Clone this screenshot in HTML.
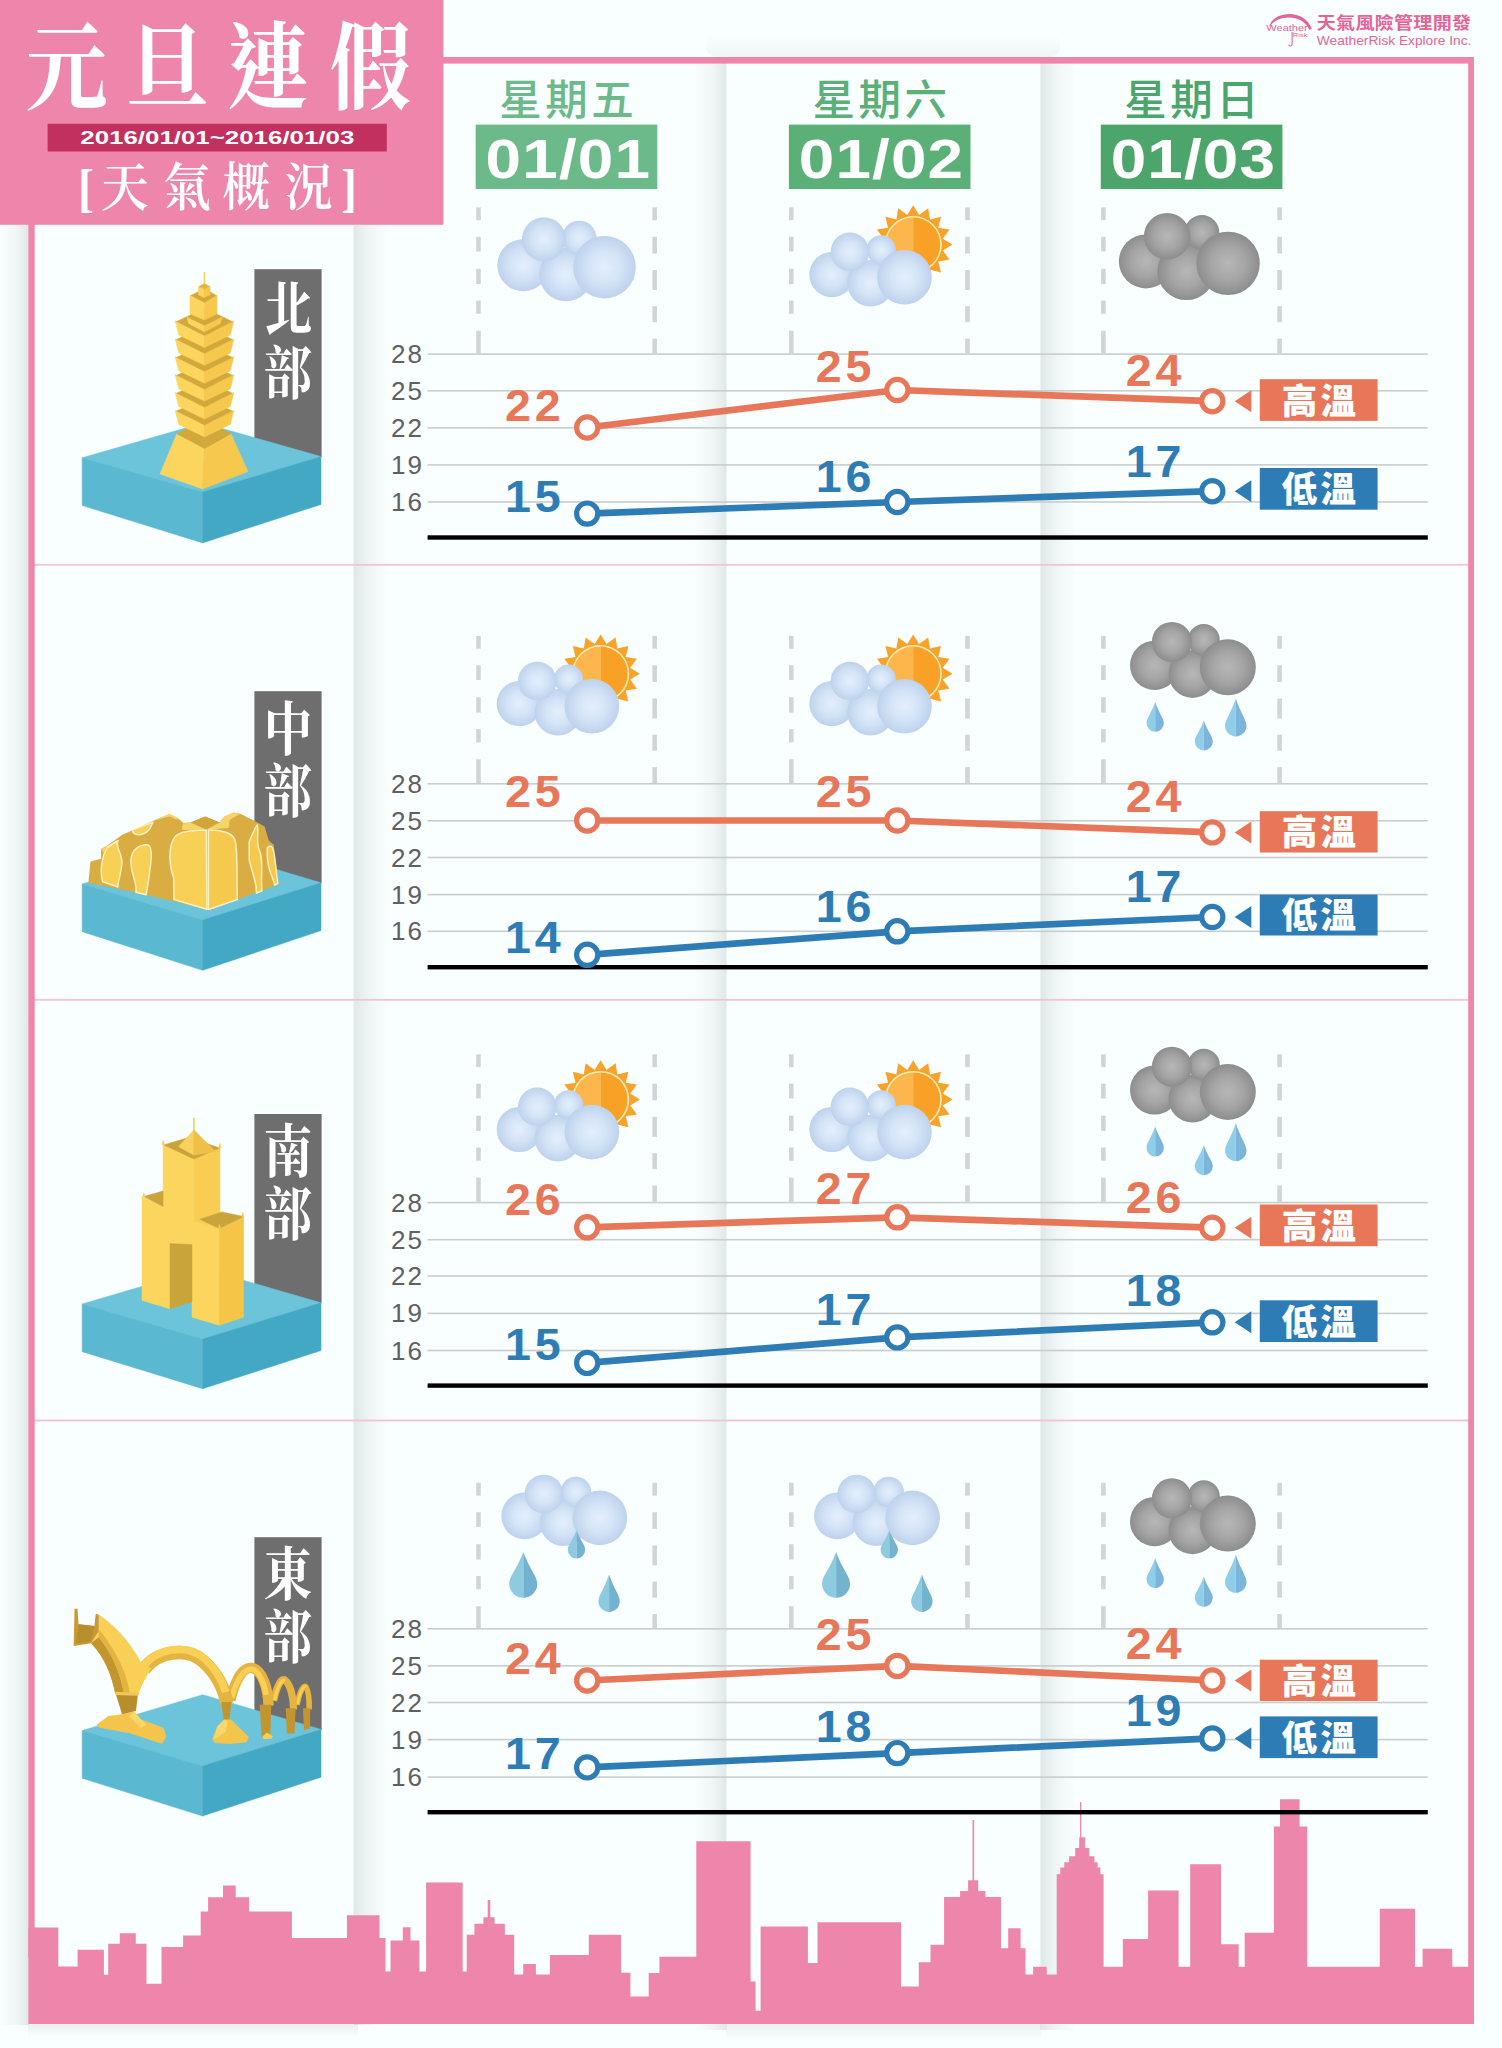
<!DOCTYPE html>
<html lang="zh-Hant"><head><meta charset="utf-8"><title>元旦連假 天氣概況</title>
<style>
html,body{margin:0;padding:0;background:#f9fefe;}
body{width:1502px;height:2048px;overflow:hidden;}
svg{display:block;}
.sans{font-family:"Liberation Sans", "Noto Sans CJK TC", sans-serif;}
.serif{font-family:"Liberation Serif", "Noto Serif CJK SC", serif;}
</style></head><body>
<svg width="1502" height="2048" viewBox="0 0 1502 2048">
<defs>
<linearGradient id="shL" x1="0" x2="1" y1="0" y2="0"><stop offset="0" stop-color="#5d7b74" stop-opacity="0"/><stop offset="0.5" stop-color="#5d7b74" stop-opacity="0.05"/><stop offset="0.85" stop-color="#5d7b74" stop-opacity="0.12"/><stop offset="1" stop-color="#5d7b74" stop-opacity="0.17"/></linearGradient>
<linearGradient id="shR" x1="0" x2="1" y1="0" y2="0"><stop offset="0" stop-color="#5d7b74" stop-opacity="0.17"/><stop offset="0.2" stop-color="#5d7b74" stop-opacity="0.115"/><stop offset="0.55" stop-color="#5d7b74" stop-opacity="0.05"/><stop offset="1" stop-color="#5d7b74" stop-opacity="0"/></linearGradient>
<linearGradient id="shD" x1="0" x2="0" y1="0" y2="1"><stop offset="0" stop-color="#5d7b74" stop-opacity="0.10"/><stop offset="1" stop-color="#5d7b74" stop-opacity="0"/></linearGradient>
<linearGradient id="shU" x1="0" x2="0" y1="0" y2="1"><stop offset="0" stop-color="#5a6e6e" stop-opacity="0"/><stop offset="1" stop-color="#5a6e6e" stop-opacity="0.10"/></linearGradient>
<radialGradient id="gL" cx="0.5" cy="0.5" r="0.5"><stop offset="0" stop-color="#e4effc"/><stop offset="0.55" stop-color="#d3e3f6"/><stop offset="1" stop-color="#bdd2ed"/></radialGradient>
<radialGradient id="gG" cx="0.5" cy="0.5" r="0.5"><stop offset="0" stop-color="#b7b7b7"/><stop offset="0.55" stop-color="#a5a5a5"/><stop offset="1" stop-color="#8d8d8d"/></radialGradient>
</defs>
<rect width="1502" height="2048" fill="#f9fefe"/>

<rect x="0" y="225" width="28.3" height="1800" fill="url(#shL)"/>
<rect x="28" y="2024" width="330" height="14" fill="url(#shD)"/>
<rect x="726" y="2024" width="315" height="16" fill="url(#shD)"/>
<rect x="353.5" y="225" width="36" height="1800" fill="url(#shR)"/>
<rect x="693.5" y="60" width="33" height="1970" fill="url(#shL)"/>
<rect x="1040.5" y="60" width="35" height="1970" fill="url(#shR)"/>
<rect x="706" y="34" width="354" height="23" rx="10" fill="url(#shU)" opacity="0.55"/>
<rect x="34" y="563.9" width="1436" height="1.8" fill="#f0c4d6"/>
<rect x="34" y="998.9" width="1436" height="1.8" fill="#f0c4d6"/>
<rect x="34" y="1419.6" width="1436" height="1.8" fill="#f0c4d6"/>
<rect x="476.2" y="207.4" width="4.6" height="12.8" fill="#d2d5d5"/>
<rect x="476.2" y="236.8" width="4.6" height="14.7" fill="#d2d5d5"/>
<rect x="476.2" y="268.8" width="4.6" height="15.3" fill="#d2d5d5"/>
<rect x="476.2" y="300.6" width="4.6" height="13.2" fill="#d2d5d5"/>
<rect x="476.2" y="330.8" width="4.6" height="22.5" fill="#d2d5d5"/>
<rect x="652.4" y="207.4" width="4.6" height="12.8" fill="#d2d5d5"/>
<rect x="652.4" y="236.8" width="4.6" height="16.7" fill="#d2d5d5"/>
<rect x="652.4" y="270.0" width="4.6" height="20.0" fill="#d2d5d5"/>
<rect x="652.4" y="306.2" width="4.6" height="16.0" fill="#d2d5d5"/>
<rect x="652.4" y="338.6" width="4.6" height="14.7" fill="#d2d5d5"/>
<rect x="789.0" y="207.4" width="4.6" height="12.8" fill="#d2d5d5"/>
<rect x="789.0" y="236.8" width="4.6" height="14.7" fill="#d2d5d5"/>
<rect x="789.0" y="268.8" width="4.6" height="15.3" fill="#d2d5d5"/>
<rect x="789.0" y="300.6" width="4.6" height="13.2" fill="#d2d5d5"/>
<rect x="789.0" y="330.8" width="4.6" height="22.5" fill="#d2d5d5"/>
<rect x="965.2" y="207.4" width="4.6" height="12.8" fill="#d2d5d5"/>
<rect x="965.2" y="236.8" width="4.6" height="16.7" fill="#d2d5d5"/>
<rect x="965.2" y="270.0" width="4.6" height="20.0" fill="#d2d5d5"/>
<rect x="965.2" y="306.2" width="4.6" height="16.0" fill="#d2d5d5"/>
<rect x="965.2" y="338.6" width="4.6" height="14.7" fill="#d2d5d5"/>
<rect x="1101.1" y="207.4" width="4.6" height="12.8" fill="#d2d5d5"/>
<rect x="1101.1" y="236.8" width="4.6" height="14.7" fill="#d2d5d5"/>
<rect x="1101.1" y="268.8" width="4.6" height="15.3" fill="#d2d5d5"/>
<rect x="1101.1" y="300.6" width="4.6" height="13.2" fill="#d2d5d5"/>
<rect x="1101.1" y="330.8" width="4.6" height="22.5" fill="#d2d5d5"/>
<rect x="1277.3" y="207.4" width="4.6" height="12.8" fill="#d2d5d5"/>
<rect x="1277.3" y="236.8" width="4.6" height="16.7" fill="#d2d5d5"/>
<rect x="1277.3" y="270.0" width="4.6" height="20.0" fill="#d2d5d5"/>
<rect x="1277.3" y="306.2" width="4.6" height="16.0" fill="#d2d5d5"/>
<rect x="1277.3" y="338.6" width="4.6" height="14.7" fill="#d2d5d5"/>
<rect x="427.6" y="353.3" width="1000.2" height="1.6" fill="#c9cdcd"/>
<text class="sans" lang="en" x="423.8" y="363.1" font-size="26" fill="#606060" text-anchor="end" letter-spacing="1.9">28</text>
<rect x="427.6" y="390.0" width="1000.2" height="1.6" fill="#c9cdcd"/>
<text class="sans" lang="en" x="423.8" y="399.8" font-size="26" fill="#606060" text-anchor="end" letter-spacing="1.9">25</text>
<rect x="427.6" y="427.1" width="1000.2" height="1.6" fill="#c9cdcd"/>
<text class="sans" lang="en" x="423.8" y="436.9" font-size="26" fill="#606060" text-anchor="end" letter-spacing="1.9">22</text>
<rect x="427.6" y="464.1" width="1000.2" height="1.6" fill="#c9cdcd"/>
<text class="sans" lang="en" x="423.8" y="473.9" font-size="26" fill="#606060" text-anchor="end" letter-spacing="1.9">19</text>
<rect x="427.6" y="501.2" width="1000.2" height="1.6" fill="#c9cdcd"/>
<text class="sans" lang="en" x="423.8" y="511.0" font-size="26" fill="#606060" text-anchor="end" letter-spacing="1.9">16</text>
<rect x="476.2" y="635.9" width="4.6" height="12.8" fill="#d2d5d5"/>
<rect x="476.2" y="665.3" width="4.6" height="14.7" fill="#d2d5d5"/>
<rect x="476.2" y="697.3" width="4.6" height="15.3" fill="#d2d5d5"/>
<rect x="476.2" y="729.1" width="4.6" height="13.2" fill="#d2d5d5"/>
<rect x="476.2" y="759.3" width="4.6" height="23.7" fill="#d2d5d5"/>
<rect x="652.4" y="635.9" width="4.6" height="12.8" fill="#d2d5d5"/>
<rect x="652.4" y="665.3" width="4.6" height="16.7" fill="#d2d5d5"/>
<rect x="652.4" y="698.5" width="4.6" height="20.0" fill="#d2d5d5"/>
<rect x="652.4" y="734.7" width="4.6" height="16.0" fill="#d2d5d5"/>
<rect x="652.4" y="767.1" width="4.6" height="15.9" fill="#d2d5d5"/>
<rect x="789.0" y="635.9" width="4.6" height="12.8" fill="#d2d5d5"/>
<rect x="789.0" y="665.3" width="4.6" height="14.7" fill="#d2d5d5"/>
<rect x="789.0" y="697.3" width="4.6" height="15.3" fill="#d2d5d5"/>
<rect x="789.0" y="729.1" width="4.6" height="13.2" fill="#d2d5d5"/>
<rect x="789.0" y="759.3" width="4.6" height="23.7" fill="#d2d5d5"/>
<rect x="965.2" y="635.9" width="4.6" height="12.8" fill="#d2d5d5"/>
<rect x="965.2" y="665.3" width="4.6" height="16.7" fill="#d2d5d5"/>
<rect x="965.2" y="698.5" width="4.6" height="20.0" fill="#d2d5d5"/>
<rect x="965.2" y="734.7" width="4.6" height="16.0" fill="#d2d5d5"/>
<rect x="965.2" y="767.1" width="4.6" height="15.9" fill="#d2d5d5"/>
<rect x="1101.1" y="635.9" width="4.6" height="12.8" fill="#d2d5d5"/>
<rect x="1101.1" y="665.3" width="4.6" height="14.7" fill="#d2d5d5"/>
<rect x="1101.1" y="697.3" width="4.6" height="15.3" fill="#d2d5d5"/>
<rect x="1101.1" y="729.1" width="4.6" height="13.2" fill="#d2d5d5"/>
<rect x="1101.1" y="759.3" width="4.6" height="23.7" fill="#d2d5d5"/>
<rect x="1277.3" y="635.9" width="4.6" height="12.8" fill="#d2d5d5"/>
<rect x="1277.3" y="665.3" width="4.6" height="16.7" fill="#d2d5d5"/>
<rect x="1277.3" y="698.5" width="4.6" height="20.0" fill="#d2d5d5"/>
<rect x="1277.3" y="734.7" width="4.6" height="16.0" fill="#d2d5d5"/>
<rect x="1277.3" y="767.1" width="4.6" height="15.9" fill="#d2d5d5"/>
<rect x="427.6" y="783.0" width="1000.2" height="1.6" fill="#c9cdcd"/>
<text class="sans" lang="en" x="423.8" y="792.8" font-size="26" fill="#606060" text-anchor="end" letter-spacing="1.9">28</text>
<rect x="427.6" y="820.0" width="1000.2" height="1.6" fill="#c9cdcd"/>
<text class="sans" lang="en" x="423.8" y="829.8" font-size="26" fill="#606060" text-anchor="end" letter-spacing="1.9">25</text>
<rect x="427.6" y="856.7" width="1000.2" height="1.6" fill="#c9cdcd"/>
<text class="sans" lang="en" x="423.8" y="866.5" font-size="26" fill="#606060" text-anchor="end" letter-spacing="1.9">22</text>
<rect x="427.6" y="893.8" width="1000.2" height="1.6" fill="#c9cdcd"/>
<text class="sans" lang="en" x="423.8" y="903.6" font-size="26" fill="#606060" text-anchor="end" letter-spacing="1.9">19</text>
<rect x="427.6" y="930.5" width="1000.2" height="1.6" fill="#c9cdcd"/>
<text class="sans" lang="en" x="423.8" y="940.3" font-size="26" fill="#606060" text-anchor="end" letter-spacing="1.9">16</text>
<rect x="476.2" y="1054.3" width="4.6" height="12.8" fill="#d2d5d5"/>
<rect x="476.2" y="1083.7" width="4.6" height="14.7" fill="#d2d5d5"/>
<rect x="476.2" y="1115.7" width="4.6" height="15.3" fill="#d2d5d5"/>
<rect x="476.2" y="1147.5" width="4.6" height="13.2" fill="#d2d5d5"/>
<rect x="476.2" y="1177.7" width="4.6" height="24.1" fill="#d2d5d5"/>
<rect x="652.4" y="1054.3" width="4.6" height="12.8" fill="#d2d5d5"/>
<rect x="652.4" y="1083.7" width="4.6" height="16.7" fill="#d2d5d5"/>
<rect x="652.4" y="1116.9" width="4.6" height="20.0" fill="#d2d5d5"/>
<rect x="652.4" y="1153.1" width="4.6" height="16.0" fill="#d2d5d5"/>
<rect x="652.4" y="1185.5" width="4.6" height="16.3" fill="#d2d5d5"/>
<rect x="789.0" y="1054.3" width="4.6" height="12.8" fill="#d2d5d5"/>
<rect x="789.0" y="1083.7" width="4.6" height="14.7" fill="#d2d5d5"/>
<rect x="789.0" y="1115.7" width="4.6" height="15.3" fill="#d2d5d5"/>
<rect x="789.0" y="1147.5" width="4.6" height="13.2" fill="#d2d5d5"/>
<rect x="789.0" y="1177.7" width="4.6" height="24.1" fill="#d2d5d5"/>
<rect x="965.2" y="1054.3" width="4.6" height="12.8" fill="#d2d5d5"/>
<rect x="965.2" y="1083.7" width="4.6" height="16.7" fill="#d2d5d5"/>
<rect x="965.2" y="1116.9" width="4.6" height="20.0" fill="#d2d5d5"/>
<rect x="965.2" y="1153.1" width="4.6" height="16.0" fill="#d2d5d5"/>
<rect x="965.2" y="1185.5" width="4.6" height="16.3" fill="#d2d5d5"/>
<rect x="1101.1" y="1054.3" width="4.6" height="12.8" fill="#d2d5d5"/>
<rect x="1101.1" y="1083.7" width="4.6" height="14.7" fill="#d2d5d5"/>
<rect x="1101.1" y="1115.7" width="4.6" height="15.3" fill="#d2d5d5"/>
<rect x="1101.1" y="1147.5" width="4.6" height="13.2" fill="#d2d5d5"/>
<rect x="1101.1" y="1177.7" width="4.6" height="24.1" fill="#d2d5d5"/>
<rect x="1277.3" y="1054.3" width="4.6" height="12.8" fill="#d2d5d5"/>
<rect x="1277.3" y="1083.7" width="4.6" height="16.7" fill="#d2d5d5"/>
<rect x="1277.3" y="1116.9" width="4.6" height="20.0" fill="#d2d5d5"/>
<rect x="1277.3" y="1153.1" width="4.6" height="16.0" fill="#d2d5d5"/>
<rect x="1277.3" y="1185.5" width="4.6" height="16.3" fill="#d2d5d5"/>
<rect x="427.6" y="1201.8" width="1000.2" height="1.6" fill="#c9cdcd"/>
<text class="sans" lang="en" x="423.8" y="1211.6" font-size="26" fill="#606060" text-anchor="end" letter-spacing="1.9">28</text>
<rect x="427.6" y="1238.9" width="1000.2" height="1.6" fill="#c9cdcd"/>
<text class="sans" lang="en" x="423.8" y="1248.7" font-size="26" fill="#606060" text-anchor="end" letter-spacing="1.9">25</text>
<rect x="427.6" y="1275.2" width="1000.2" height="1.6" fill="#c9cdcd"/>
<text class="sans" lang="en" x="423.8" y="1285.0" font-size="26" fill="#606060" text-anchor="end" letter-spacing="1.9">22</text>
<rect x="427.6" y="1312.6" width="1000.2" height="1.6" fill="#c9cdcd"/>
<text class="sans" lang="en" x="423.8" y="1322.4" font-size="26" fill="#606060" text-anchor="end" letter-spacing="1.9">19</text>
<rect x="427.6" y="1349.7" width="1000.2" height="1.6" fill="#c9cdcd"/>
<text class="sans" lang="en" x="423.8" y="1359.5" font-size="26" fill="#606060" text-anchor="end" letter-spacing="1.9">16</text>
<rect x="476.2" y="1482.8" width="4.6" height="12.8" fill="#d2d5d5"/>
<rect x="476.2" y="1512.2" width="4.6" height="14.7" fill="#d2d5d5"/>
<rect x="476.2" y="1544.2" width="4.6" height="15.3" fill="#d2d5d5"/>
<rect x="476.2" y="1576.0" width="4.6" height="13.2" fill="#d2d5d5"/>
<rect x="476.2" y="1606.2" width="4.6" height="21.8" fill="#d2d5d5"/>
<rect x="652.4" y="1482.8" width="4.6" height="12.8" fill="#d2d5d5"/>
<rect x="652.4" y="1512.2" width="4.6" height="16.7" fill="#d2d5d5"/>
<rect x="652.4" y="1545.4" width="4.6" height="20.0" fill="#d2d5d5"/>
<rect x="652.4" y="1581.6" width="4.6" height="16.0" fill="#d2d5d5"/>
<rect x="652.4" y="1614.0" width="4.6" height="14.0" fill="#d2d5d5"/>
<rect x="789.0" y="1482.8" width="4.6" height="12.8" fill="#d2d5d5"/>
<rect x="789.0" y="1512.2" width="4.6" height="14.7" fill="#d2d5d5"/>
<rect x="789.0" y="1544.2" width="4.6" height="15.3" fill="#d2d5d5"/>
<rect x="789.0" y="1576.0" width="4.6" height="13.2" fill="#d2d5d5"/>
<rect x="789.0" y="1606.2" width="4.6" height="21.8" fill="#d2d5d5"/>
<rect x="965.2" y="1482.8" width="4.6" height="12.8" fill="#d2d5d5"/>
<rect x="965.2" y="1512.2" width="4.6" height="16.7" fill="#d2d5d5"/>
<rect x="965.2" y="1545.4" width="4.6" height="20.0" fill="#d2d5d5"/>
<rect x="965.2" y="1581.6" width="4.6" height="16.0" fill="#d2d5d5"/>
<rect x="965.2" y="1614.0" width="4.6" height="14.0" fill="#d2d5d5"/>
<rect x="1101.1" y="1482.8" width="4.6" height="12.8" fill="#d2d5d5"/>
<rect x="1101.1" y="1512.2" width="4.6" height="14.7" fill="#d2d5d5"/>
<rect x="1101.1" y="1544.2" width="4.6" height="15.3" fill="#d2d5d5"/>
<rect x="1101.1" y="1576.0" width="4.6" height="13.2" fill="#d2d5d5"/>
<rect x="1101.1" y="1606.2" width="4.6" height="21.8" fill="#d2d5d5"/>
<rect x="1277.3" y="1482.8" width="4.6" height="12.8" fill="#d2d5d5"/>
<rect x="1277.3" y="1512.2" width="4.6" height="16.7" fill="#d2d5d5"/>
<rect x="1277.3" y="1545.4" width="4.6" height="20.0" fill="#d2d5d5"/>
<rect x="1277.3" y="1581.6" width="4.6" height="16.0" fill="#d2d5d5"/>
<rect x="1277.3" y="1614.0" width="4.6" height="14.0" fill="#d2d5d5"/>
<rect x="427.6" y="1628.0" width="1000.2" height="1.6" fill="#c9cdcd"/>
<text class="sans" lang="en" x="423.8" y="1637.8" font-size="26" fill="#606060" text-anchor="end" letter-spacing="1.9">28</text>
<rect x="427.6" y="1665.1" width="1000.2" height="1.6" fill="#c9cdcd"/>
<text class="sans" lang="en" x="423.8" y="1674.9" font-size="26" fill="#606060" text-anchor="end" letter-spacing="1.9">25</text>
<rect x="427.6" y="1701.7" width="1000.2" height="1.6" fill="#c9cdcd"/>
<text class="sans" lang="en" x="423.8" y="1711.5" font-size="26" fill="#606060" text-anchor="end" letter-spacing="1.9">22</text>
<rect x="427.6" y="1738.8" width="1000.2" height="1.6" fill="#c9cdcd"/>
<text class="sans" lang="en" x="423.8" y="1748.6" font-size="26" fill="#606060" text-anchor="end" letter-spacing="1.9">19</text>
<rect x="427.6" y="1776.3" width="1000.2" height="1.6" fill="#c9cdcd"/>
<text class="sans" lang="en" x="423.8" y="1786.1" font-size="26" fill="#606060" text-anchor="end" letter-spacing="1.9">16</text>
<polygon fill="#ee86ab" points="28.3,1927.5 58.3,1927.5 58.3,1966.4 77.6,1966.4 77.6,1949.8 103.9,1949.8 103.9,1974.8 108.2,1974.8 108.2,1943.8 119.8,1943.8 119.8,1933.2 135.8,1933.2 135.8,1943.8 146.5,1943.8 146.5,1983.8 161.5,1983.8 161.5,1947.1 183.1,1947.1 183.1,1935.5 200.7,1935.5 200.7,1911.5 208.1,1911.5 208.1,1897.2 223.0,1897.2 223.0,1885.6 235.7,1885.6 235.7,1897.2 249.0,1897.2 249.0,1911.5 291.9,1911.5 291.9,1938.1 346.9,1938.1 346.9,1915.2 379.5,1915.2 379.5,1938.1 385.5,1938.1 385.5,1971.4 390.5,1971.4 390.5,1940.5 402.8,1940.5 402.8,1927.2 410.5,1927.2 410.5,1940.5 419.4,1940.5 419.4,1971.4 426.1,1971.4 426.1,1882.6 462.7,1882.6 462.7,1971.4 466.7,1971.4 466.7,1934.8 474.4,1934.8 474.4,1923.8 483.4,1923.8 483.4,1917.2 487.7,1917.2 487.7,1899.9 490.3,1899.9 490.3,1917.2 494.6,1917.2 494.6,1923.8 504.9,1923.8 504.9,1934.8 514.2,1934.8 514.2,1974.4 523.2,1974.4 523.2,1964.1 535.9,1964.1 535.9,1974.4 549.9,1974.4 549.9,1955.1 588.8,1955.1 588.8,1934.8 621.1,1934.8 621.1,1972.8 630.4,1972.8 630.4,1996.4 648.7,1996.4 648.7,1973.1 659.4,1973.1 659.4,1956.8 696.3,1956.8 696.3,1841.3 750.6,1841.3 750.6,1981.4 755.6,1981.4 755.6,2010.7 760.6,2010.7 760.6,1926.5 807.9,1926.5 807.9,1963.1 817.5,1963.1 817.5,1922.2 901.1,1922.2 901.1,1986.4 918.8,1986.4 918.8,1962.3 930.5,1962.3 930.5,1944.7 944.1,1944.7 944.1,1897.0 960.1,1897.0 960.1,1891.0 968.1,1891.0 968.1,1880.2 972.5,1880.2 972.5,1820.1 974.1,1820.1 974.1,1880.2 978.2,1880.2 978.2,1891.0 985.4,1891.0 985.4,1897.0 1001.0,1897.0 1001.0,1948.3 1008.2,1948.3 1008.2,1928.3 1020.6,1928.3 1020.6,1948.3 1025.5,1948.3 1025.5,1974.4 1033.1,1974.4 1033.1,1966.8 1046.7,1966.8 1046.7,1974.4 1056.7,1974.4 1056.7,1874.2 1060.3,1874.2 1060.3,1867.4 1064.3,1867.4 1064.3,1862.2 1069.1,1862.2 1069.1,1856.2 1075.2,1856.2 1075.2,1848.1 1079.2,1848.1 1079.2,1837.3 1080.0,1837.3 1080.0,1802.0 1081.2,1802.0 1081.2,1837.3 1085.2,1837.3 1085.2,1848.1 1089.2,1848.1 1089.2,1856.2 1094.4,1856.2 1094.4,1862.2 1097.6,1862.2 1097.6,1867.4 1100.4,1867.4 1100.4,1874.2 1103.6,1874.2 1103.6,1966.8 1122.8,1966.8 1122.8,1939.1 1148.1,1939.1 1148.1,1890.6 1178.6,1890.6 1178.6,1966.8 1190.2,1966.8 1190.2,1864.2 1221.0,1864.2 1221.0,1944.3 1238.7,1944.3 1238.7,1966.8 1244.7,1966.8 1244.7,1932.7 1273.9,1932.7 1273.9,1826.5 1280.0,1826.5 1280.0,1799.2 1299.6,1799.2 1299.6,1826.5 1307.2,1826.5 1307.2,1966.8 1379.8,1966.8 1379.8,1908.7 1415.0,1908.7 1415.0,1966.8 1422.6,1966.8 1422.6,1948.7 1452.3,1948.7 1452.3,1966.8 1474.0,1966.8 1474.0,2024.0 28.3,2024.0"/>
<rect x="28.3" y="57" width="1445.7" height="6.6" fill="#ee86ab"/>
<rect x="28.3" y="57" width="6.4" height="1900" fill="#ee86ab"/>
<rect x="1468.2" y="57" width="5.8" height="1930" fill="#ee86ab"/>
<rect x="427.6" y="535.3" width="1000.2" height="4.4" fill="#000"/>
<rect x="427.6" y="965.0" width="1000.2" height="4.4" fill="#000"/>
<rect x="427.6" y="1383.4" width="1000.2" height="4.4" fill="#000"/>
<rect x="427.6" y="1810.0" width="1000.2" height="4.4" fill="#000"/>
<rect x="0" y="0" width="443.4" height="224.8" fill="#ee86ab"/>
<g transform="scale(0.86,1)"><text class="serif" font-size="95" font-weight="700" fill="#fff" text-anchor="middle" x="77.4 194.5 311.6 430.6" y="102.2">元旦連假</text></g>
<rect x="47.6" y="123.8" width="339.2" height="27.7" fill="#c2305f"/>
<text class="sans" lang="en" font-size="18.5" font-weight="700" fill="#fff" x="80.3" y="143.9" textLength="274" lengthAdjust="spacingAndGlyphs">2016/01/01~2016/01/03</text>
<g transform="scale(0.92,1)"><text class="serif" font-size="52" font-weight="600" fill="#fff" text-anchor="middle" x="93.4 135.7 203.4 267.7 335.4 379.2" y="205.6">[天氣概況]</text></g>
<g fill="#e2659a">
<path d="M1269.2,26.0 C1274.5,10.6 1304.4,8.6 1311.8,29.0 L1309.2,29.8 C1302.9,13.6 1277.5,14.6 1270.1,26.4 Z"/>
<text class="sans" lang="en" font-size="9.6" x="1266.3" y="30.6" textLength="41.5" lengthAdjust="spacingAndGlyphs">Weather</text>
<text class="sans" lang="en" font-size="6.2" x="1292.8" y="37.4" textLength="14.6" lengthAdjust="spacingAndGlyphs">Risk</text>
<path d="M1291.6,32 L1292.7,32 L1292.7,43.5 C1292.7,47.2 1288.6,47.4 1288.2,44.6 L1289.2,44.4 C1289.6,46.2 1291.6,46 1291.6,43.5 Z"/>
<text class="sans" font-size="16.6" font-weight="700" transform="translate(1316.8,28.7) scale(1.15,1)" letter-spacing="0.2">天氣風險管理開發</text>
<text class="sans" lang="en" font-size="13.6" x="1316.8" y="44.8" textLength="154.6" lengthAdjust="spacingAndGlyphs">WeatherRisk Explore Inc.</text>
</g>
<text class="sans" font-size="42.5" font-weight="500" fill="#6cba8a" text-anchor="middle" x="520.5 566.5 612.5" y="114.5">星期五</text>
<rect x="475.7" y="124.6" width="181.6" height="64.4" fill="#6cba8a"/>
<text class="sans" lang="en" font-size="55.5" font-weight="700" fill="#fff" transform="translate(485.6,177.5) scale(1.15,1)" letter-spacing="1.0">01/01</text>
<text class="sans" font-size="42.5" font-weight="500" fill="#5bb077" text-anchor="middle" x="833.7 879.7 925.7" y="114.5">星期六</text>
<rect x="788.9" y="124.6" width="181.6" height="64.4" fill="#5bb077"/>
<text class="sans" lang="en" font-size="55.5" font-weight="700" fill="#fff" transform="translate(798.8,177.5) scale(1.15,1)" letter-spacing="1.0">01/02</text>
<text class="sans" font-size="42.5" font-weight="500" fill="#4ca56a" text-anchor="middle" x="1145.6 1191.6 1237.6" y="114.5">星期日</text>
<rect x="1100.8" y="124.6" width="181.6" height="64.4" fill="#4ca56a"/>
<text class="sans" lang="en" font-size="55.5" font-weight="700" fill="#fff" transform="translate(1110.7,177.5) scale(1.15,1)" letter-spacing="1.0">01/03</text>
<polyline points="587.2,427.5 897.3,390.0 1212.3,401.2" fill="none" stroke="#e8775a" stroke-width="6.7" stroke-linejoin="round"/>
<circle cx="587.2" cy="427.5" r="10.6" fill="#fff" stroke="#e8775a" stroke-width="5.2"/>
<circle cx="897.3" cy="390.0" r="10.6" fill="#fff" stroke="#e8775a" stroke-width="5.2"/>
<circle cx="1212.3" cy="401.2" r="10.6" fill="#fff" stroke="#e8775a" stroke-width="5.2"/>
<polyline points="587.2,513.6 897.3,502.0 1212.3,491.2" fill="none" stroke="#2e7cb5" stroke-width="6.7" stroke-linejoin="round"/>
<circle cx="587.2" cy="513.6" r="10.6" fill="#fff" stroke="#2e7cb5" stroke-width="5.2"/>
<circle cx="897.3" cy="502.0" r="10.6" fill="#fff" stroke="#2e7cb5" stroke-width="5.2"/>
<circle cx="1212.3" cy="491.2" r="10.6" fill="#fff" stroke="#2e7cb5" stroke-width="5.2"/>
<text class="sans" lang="en" font-size="44" font-weight="700" fill="#e8775a" transform="translate(504.9,420.5) scale(1.06,1)" letter-spacing="3.6">22</text>
<text class="sans" lang="en" font-size="44" font-weight="700" fill="#e8775a" transform="translate(815.7,381.9) scale(1.06,1)" letter-spacing="3.6">25</text>
<text class="sans" lang="en" font-size="44" font-weight="700" fill="#e8775a" transform="translate(1125.7,386.2) scale(1.06,1)" letter-spacing="3.6">24</text>
<text class="sans" lang="en" font-size="44" font-weight="700" fill="#2e7cb5" transform="translate(504.9,512.4) scale(1.06,1)" letter-spacing="3.6">15</text>
<text class="sans" lang="en" font-size="44" font-weight="700" fill="#2e7cb5" transform="translate(815.7,492.3) scale(1.06,1)" letter-spacing="3.6">16</text>
<text class="sans" lang="en" font-size="44" font-weight="700" fill="#2e7cb5" transform="translate(1125.7,476.5) scale(1.06,1)" letter-spacing="3.6">17</text>
<polygon points="1234.7,401.2 1251.3,390.2 1251.3,412.2" fill="#e8775a"/>
<rect x="1259.8" y="379.2" width="117.8" height="41.7" fill="#e8775a"/>
<text class="sans" font-size="35.5" font-weight="900" fill="#fff" text-anchor="middle" x="1299.6 1338.2" y="413.5">高溫</text>
<polygon points="1234.7,491.2 1251.3,480.2 1251.3,502.2" fill="#2e7cb5"/>
<rect x="1259.8" y="468.0" width="117.8" height="41.7" fill="#2e7cb5"/>
<text class="sans" font-size="35.5" font-weight="900" fill="#fff" text-anchor="middle" x="1299.6 1338.2" y="502.3">低溫</text>
<polyline points="587.2,820.5 897.3,820.5 1212.3,832.4" fill="none" stroke="#e8775a" stroke-width="6.7" stroke-linejoin="round"/>
<circle cx="587.2" cy="820.5" r="10.6" fill="#fff" stroke="#e8775a" stroke-width="5.2"/>
<circle cx="897.3" cy="820.5" r="10.6" fill="#fff" stroke="#e8775a" stroke-width="5.2"/>
<circle cx="1212.3" cy="832.4" r="10.6" fill="#fff" stroke="#e8775a" stroke-width="5.2"/>
<polyline points="587.2,954.8 897.3,931.3 1212.3,917.0" fill="none" stroke="#2e7cb5" stroke-width="6.7" stroke-linejoin="round"/>
<circle cx="587.2" cy="954.8" r="10.6" fill="#fff" stroke="#2e7cb5" stroke-width="5.2"/>
<circle cx="897.3" cy="931.3" r="10.6" fill="#fff" stroke="#2e7cb5" stroke-width="5.2"/>
<circle cx="1212.3" cy="917.0" r="10.6" fill="#fff" stroke="#2e7cb5" stroke-width="5.2"/>
<text class="sans" lang="en" font-size="44" font-weight="700" fill="#e8775a" transform="translate(504.9,806.9) scale(1.06,1)" letter-spacing="3.6">25</text>
<text class="sans" lang="en" font-size="44" font-weight="700" fill="#e8775a" transform="translate(815.7,806.9) scale(1.06,1)" letter-spacing="3.6">25</text>
<text class="sans" lang="en" font-size="44" font-weight="700" fill="#e8775a" transform="translate(1125.7,811.6) scale(1.06,1)" letter-spacing="3.6">24</text>
<text class="sans" lang="en" font-size="44" font-weight="700" fill="#2e7cb5" transform="translate(504.9,952.9) scale(1.06,1)" letter-spacing="3.6">14</text>
<text class="sans" lang="en" font-size="44" font-weight="700" fill="#2e7cb5" transform="translate(815.7,922.0) scale(1.06,1)" letter-spacing="3.6">16</text>
<text class="sans" lang="en" font-size="44" font-weight="700" fill="#2e7cb5" transform="translate(1125.7,901.5) scale(1.06,1)" letter-spacing="3.6">17</text>
<polygon points="1234.7,832.4 1251.3,821.4 1251.3,843.4" fill="#e8775a"/>
<rect x="1259.8" y="811.2" width="117.8" height="41.3" fill="#e8775a"/>
<text class="sans" font-size="35.5" font-weight="900" fill="#fff" text-anchor="middle" x="1299.6 1338.2" y="845.1">高溫</text>
<polygon points="1234.7,917.0 1251.3,906.0 1251.3,928.0" fill="#2e7cb5"/>
<rect x="1259.8" y="894.6" width="117.8" height="40.9" fill="#2e7cb5"/>
<text class="sans" font-size="35.5" font-weight="900" fill="#fff" text-anchor="middle" x="1299.6 1338.2" y="928.1">低溫</text>
<polyline points="587.2,1227.3 897.3,1217.3 1212.3,1227.7" fill="none" stroke="#e8775a" stroke-width="6.7" stroke-linejoin="round"/>
<circle cx="587.2" cy="1227.3" r="10.6" fill="#fff" stroke="#e8775a" stroke-width="5.2"/>
<circle cx="897.3" cy="1217.3" r="10.6" fill="#fff" stroke="#e8775a" stroke-width="5.2"/>
<circle cx="1212.3" cy="1227.7" r="10.6" fill="#fff" stroke="#e8775a" stroke-width="5.2"/>
<polyline points="587.2,1362.9 897.3,1337.4 1212.3,1322.3" fill="none" stroke="#2e7cb5" stroke-width="6.7" stroke-linejoin="round"/>
<circle cx="587.2" cy="1362.9" r="10.6" fill="#fff" stroke="#2e7cb5" stroke-width="5.2"/>
<circle cx="897.3" cy="1337.4" r="10.6" fill="#fff" stroke="#2e7cb5" stroke-width="5.2"/>
<circle cx="1212.3" cy="1322.3" r="10.6" fill="#fff" stroke="#2e7cb5" stroke-width="5.2"/>
<text class="sans" lang="en" font-size="44" font-weight="700" fill="#e8775a" transform="translate(504.9,1214.6) scale(1.06,1)" letter-spacing="3.6">26</text>
<text class="sans" lang="en" font-size="44" font-weight="700" fill="#e8775a" transform="translate(815.7,1203.8) scale(1.06,1)" letter-spacing="3.6">27</text>
<text class="sans" lang="en" font-size="44" font-weight="700" fill="#e8775a" transform="translate(1125.7,1213.4) scale(1.06,1)" letter-spacing="3.6">26</text>
<text class="sans" lang="en" font-size="44" font-weight="700" fill="#2e7cb5" transform="translate(504.9,1360.2) scale(1.06,1)" letter-spacing="3.6">15</text>
<text class="sans" lang="en" font-size="44" font-weight="700" fill="#2e7cb5" transform="translate(815.7,1325.4) scale(1.06,1)" letter-spacing="3.6">17</text>
<text class="sans" lang="en" font-size="44" font-weight="700" fill="#2e7cb5" transform="translate(1125.7,1306.1) scale(1.06,1)" letter-spacing="3.6">18</text>
<polygon points="1234.7,1227.7 1251.3,1216.7 1251.3,1238.7" fill="#e8775a"/>
<rect x="1259.8" y="1204.5" width="117.8" height="41.7" fill="#e8775a"/>
<text class="sans" font-size="35.5" font-weight="900" fill="#fff" text-anchor="middle" x="1299.6 1338.2" y="1238.8">高溫</text>
<polygon points="1234.7,1322.3 1251.3,1311.3 1251.3,1333.3" fill="#2e7cb5"/>
<rect x="1259.8" y="1300.3" width="117.8" height="41.7" fill="#2e7cb5"/>
<text class="sans" font-size="35.5" font-weight="900" fill="#fff" text-anchor="middle" x="1299.6 1338.2" y="1334.6">低溫</text>
<polyline points="587.2,1680.5 897.3,1665.9 1212.3,1680.5" fill="none" stroke="#e8775a" stroke-width="6.7" stroke-linejoin="round"/>
<circle cx="587.2" cy="1680.5" r="10.6" fill="#fff" stroke="#e8775a" stroke-width="5.2"/>
<circle cx="897.3" cy="1665.9" r="10.6" fill="#fff" stroke="#e8775a" stroke-width="5.2"/>
<circle cx="1212.3" cy="1680.5" r="10.6" fill="#fff" stroke="#e8775a" stroke-width="5.2"/>
<polyline points="587.2,1767.4 897.3,1753.1 1212.3,1738.4" fill="none" stroke="#2e7cb5" stroke-width="6.7" stroke-linejoin="round"/>
<circle cx="587.2" cy="1767.4" r="10.6" fill="#fff" stroke="#2e7cb5" stroke-width="5.2"/>
<circle cx="897.3" cy="1753.1" r="10.6" fill="#fff" stroke="#2e7cb5" stroke-width="5.2"/>
<circle cx="1212.3" cy="1738.4" r="10.6" fill="#fff" stroke="#2e7cb5" stroke-width="5.2"/>
<text class="sans" lang="en" font-size="44" font-weight="700" fill="#e8775a" transform="translate(504.9,1674.0) scale(1.06,1)" letter-spacing="3.6">24</text>
<text class="sans" lang="en" font-size="44" font-weight="700" fill="#e8775a" transform="translate(815.7,1650.0) scale(1.06,1)" letter-spacing="3.6">25</text>
<text class="sans" lang="en" font-size="44" font-weight="700" fill="#e8775a" transform="translate(1125.7,1658.5) scale(1.06,1)" letter-spacing="3.6">24</text>
<text class="sans" lang="en" font-size="44" font-weight="700" fill="#2e7cb5" transform="translate(504.9,1769.0) scale(1.06,1)" letter-spacing="3.6">17</text>
<text class="sans" lang="en" font-size="44" font-weight="700" fill="#2e7cb5" transform="translate(815.7,1741.5) scale(1.06,1)" letter-spacing="3.6">18</text>
<text class="sans" lang="en" font-size="44" font-weight="700" fill="#2e7cb5" transform="translate(1125.7,1726.1) scale(1.06,1)" letter-spacing="3.6">19</text>
<polygon points="1234.7,1680.5 1251.3,1669.5 1251.3,1691.5" fill="#e8775a"/>
<rect x="1259.8" y="1659.7" width="117.8" height="41.3" fill="#e8775a"/>
<text class="sans" font-size="35.5" font-weight="900" fill="#fff" text-anchor="middle" x="1299.6 1338.2" y="1693.6">高溫</text>
<polygon points="1234.7,1738.4 1251.3,1727.4 1251.3,1749.4" fill="#2e7cb5"/>
<rect x="1259.8" y="1716.4" width="117.8" height="41.7" fill="#2e7cb5"/>
<text class="sans" font-size="35.5" font-weight="900" fill="#fff" text-anchor="middle" x="1299.6 1338.2" y="1750.7">低溫</text>
<circle cx="523.3" cy="265.2" r="26.0" fill="url(#gL)"/>
<circle cx="565.9" cy="274.6" r="26.6" fill="url(#gL)"/>
<circle cx="579.2" cy="238.0" r="17.3" fill="url(#gL)"/>
<circle cx="543.9" cy="239.3" r="22.0" fill="url(#gL)"/>
<circle cx="604.5" cy="267.2" r="31.3" fill="url(#gL)"/>
<polygon fill="#f9a229" points="913.2,205.3 919.1,215.0 928.2,208.3 930.0,219.5 941.0,216.8 938.3,227.8 949.5,229.6 942.8,238.7 952.5,244.6 942.8,250.5 949.5,259.6 938.3,261.4 941.0,272.4 930.0,269.7 928.2,280.9 919.1,274.2 913.2,283.9 907.3,274.2 898.2,280.9 896.4,269.7 885.4,272.4 888.1,261.4 876.9,259.6 883.6,250.5 873.9,244.6 883.6,238.7 876.9,229.6 888.1,227.8 885.4,216.8 896.4,219.5 898.2,208.3 907.3,215.0"/>
<circle cx="913.2" cy="244.6" r="28.6" fill="#fdeeb8"/>
<path d="M913.2,217.5 A27.1,27.1 0 0 0 913.2,271.7 Z" fill="#fdb64c"/>
<path d="M913.2,217.5 A27.1,27.1 0 0 1 913.2,271.7 Z" fill="#f9a127"/>
<circle cx="831.9" cy="274.6" r="22.6" fill="url(#gL)"/>
<circle cx="870.5" cy="283.2" r="23.3" fill="url(#gL)"/>
<circle cx="881.2" cy="249.9" r="14.6" fill="url(#gL)"/>
<circle cx="849.9" cy="251.9" r="19.3" fill="url(#gL)"/>
<circle cx="904.5" cy="277.2" r="27.3" fill="url(#gL)"/>
<circle cx="1145.9" cy="261.4" r="27.0" fill="url(#gG)"/>
<circle cx="1186.4" cy="271.1" r="29.0" fill="url(#gG)"/>
<circle cx="1201.9" cy="232.5" r="17.4" fill="url(#gG)"/>
<circle cx="1167.1" cy="236.3" r="23.2" fill="url(#gG)"/>
<circle cx="1228.1" cy="263.4" r="31.7" fill="url(#gG)"/>
<polygon fill="#f9a229" points="600.6,634.4 606.5,644.1 615.6,637.4 617.4,648.6 628.4,645.9 625.7,656.9 636.9,658.7 630.2,667.8 639.9,673.7 630.2,679.6 636.9,688.7 625.7,690.5 628.4,701.5 617.4,698.8 615.6,710.0 606.5,703.3 600.6,713.0 594.7,703.3 585.6,710.0 583.8,698.8 572.8,701.5 575.5,690.5 564.3,688.7 571.0,679.6 561.3,673.7 571.0,667.8 564.3,658.7 575.5,656.9 572.8,645.9 583.8,648.6 585.6,637.4 594.7,644.1"/>
<circle cx="600.6" cy="673.7" r="28.6" fill="#fdeeb8"/>
<path d="M600.6,646.6 A27.1,27.1 0 0 0 600.6,700.8 Z" fill="#fdb64c"/>
<path d="M600.6,646.6 A27.1,27.1 0 0 1 600.6,700.8 Z" fill="#f9a127"/>
<circle cx="519.3" cy="703.7" r="22.6" fill="url(#gL)"/>
<circle cx="557.9" cy="712.3" r="23.3" fill="url(#gL)"/>
<circle cx="568.6" cy="679.0" r="14.6" fill="url(#gL)"/>
<circle cx="537.3" cy="681.0" r="19.3" fill="url(#gL)"/>
<circle cx="591.9" cy="706.3" r="27.3" fill="url(#gL)"/>
<polygon fill="#f9a229" points="913.2,634.4 919.1,644.1 928.2,637.4 930.0,648.6 941.0,645.9 938.3,656.9 949.5,658.7 942.8,667.8 952.5,673.7 942.8,679.6 949.5,688.7 938.3,690.5 941.0,701.5 930.0,698.8 928.2,710.0 919.1,703.3 913.2,713.0 907.3,703.3 898.2,710.0 896.4,698.8 885.4,701.5 888.1,690.5 876.9,688.7 883.6,679.6 873.9,673.7 883.6,667.8 876.9,658.7 888.1,656.9 885.4,645.9 896.4,648.6 898.2,637.4 907.3,644.1"/>
<circle cx="913.2" cy="673.7" r="28.6" fill="#fdeeb8"/>
<path d="M913.2,646.6 A27.1,27.1 0 0 0 913.2,700.8 Z" fill="#fdb64c"/>
<path d="M913.2,646.6 A27.1,27.1 0 0 1 913.2,700.8 Z" fill="#f9a127"/>
<circle cx="831.9" cy="703.7" r="22.6" fill="url(#gL)"/>
<circle cx="870.5" cy="712.3" r="23.3" fill="url(#gL)"/>
<circle cx="881.2" cy="679.0" r="14.6" fill="url(#gL)"/>
<circle cx="849.9" cy="681.0" r="19.3" fill="url(#gL)"/>
<circle cx="904.5" cy="706.3" r="27.3" fill="url(#gL)"/>
<circle cx="1154.6" cy="665.3" r="24.6" fill="url(#gG)"/>
<circle cx="1192.5" cy="673.9" r="24.0" fill="url(#gG)"/>
<circle cx="1203.8" cy="640.0" r="16.0" fill="url(#gG)"/>
<circle cx="1171.9" cy="642.0" r="20.0" fill="url(#gG)"/>
<circle cx="1227.8" cy="667.3" r="28.0" fill="url(#gG)"/>
<path d="M1155.2,701.9 C1150.9,714.2 1146.5,718.3 1146.5,723.1 A8.7,8.7 0 0 0 1155.2,731.8 Z" fill="#8fcde8"/><path d="M1155.2,701.9 C1159.5,714.2 1163.9,718.3 1163.9,723.1 A8.7,8.7 0 0 1 1155.2,731.8 Z" fill="#7bb5dc"/>
<path d="M1203.8,720.5 C1199.3,732.7 1194.8,736.5 1194.8,741.5 A9.0,9.0 0 0 0 1203.8,750.5 Z" fill="#8fcde8"/><path d="M1203.8,720.5 C1208.3,732.7 1212.8,736.5 1212.8,741.5 A9.0,9.0 0 0 1 1203.8,750.5 Z" fill="#7bb5dc"/>
<path d="M1235.8,698.5 C1230.5,714.3 1225.1,719.9 1225.1,725.8 A10.7,10.7 0 0 0 1235.8,736.5 Z" fill="#8fcde8"/><path d="M1235.8,698.5 C1241.1,714.3 1246.5,719.9 1246.5,725.8 A10.7,10.7 0 0 1 1235.8,736.5 Z" fill="#7bb5dc"/>
<polygon fill="#f9a229" points="600.6,1060.2 606.5,1069.9 615.6,1063.2 617.4,1074.4 628.4,1071.7 625.7,1082.7 636.9,1084.5 630.2,1093.6 639.9,1099.5 630.2,1105.4 636.9,1114.5 625.7,1116.3 628.4,1127.3 617.4,1124.6 615.6,1135.8 606.5,1129.1 600.6,1138.8 594.7,1129.1 585.6,1135.8 583.8,1124.6 572.8,1127.3 575.5,1116.3 564.3,1114.5 571.0,1105.4 561.3,1099.5 571.0,1093.6 564.3,1084.5 575.5,1082.7 572.8,1071.7 583.8,1074.4 585.6,1063.2 594.7,1069.9"/>
<circle cx="600.6" cy="1099.5" r="28.6" fill="#fdeeb8"/>
<path d="M600.6,1072.4 A27.1,27.1 0 0 0 600.6,1126.6 Z" fill="#fdb64c"/>
<path d="M600.6,1072.4 A27.1,27.1 0 0 1 600.6,1126.6 Z" fill="#f9a127"/>
<circle cx="519.3" cy="1129.5" r="22.6" fill="url(#gL)"/>
<circle cx="557.9" cy="1138.1" r="23.3" fill="url(#gL)"/>
<circle cx="568.6" cy="1104.8" r="14.6" fill="url(#gL)"/>
<circle cx="537.3" cy="1106.8" r="19.3" fill="url(#gL)"/>
<circle cx="591.9" cy="1132.1" r="27.3" fill="url(#gL)"/>
<polygon fill="#f9a229" points="913.2,1060.2 919.1,1069.9 928.2,1063.2 930.0,1074.4 941.0,1071.7 938.3,1082.7 949.5,1084.5 942.8,1093.6 952.5,1099.5 942.8,1105.4 949.5,1114.5 938.3,1116.3 941.0,1127.3 930.0,1124.6 928.2,1135.8 919.1,1129.1 913.2,1138.8 907.3,1129.1 898.2,1135.8 896.4,1124.6 885.4,1127.3 888.1,1116.3 876.9,1114.5 883.6,1105.4 873.9,1099.5 883.6,1093.6 876.9,1084.5 888.1,1082.7 885.4,1071.7 896.4,1074.4 898.2,1063.2 907.3,1069.9"/>
<circle cx="913.2" cy="1099.5" r="28.6" fill="#fdeeb8"/>
<path d="M913.2,1072.4 A27.1,27.1 0 0 0 913.2,1126.6 Z" fill="#fdb64c"/>
<path d="M913.2,1072.4 A27.1,27.1 0 0 1 913.2,1126.6 Z" fill="#f9a127"/>
<circle cx="831.9" cy="1129.5" r="22.6" fill="url(#gL)"/>
<circle cx="870.5" cy="1138.1" r="23.3" fill="url(#gL)"/>
<circle cx="881.2" cy="1104.8" r="14.6" fill="url(#gL)"/>
<circle cx="849.9" cy="1106.8" r="19.3" fill="url(#gL)"/>
<circle cx="904.5" cy="1132.1" r="27.3" fill="url(#gL)"/>
<circle cx="1154.6" cy="1090.0" r="24.6" fill="url(#gG)"/>
<circle cx="1192.5" cy="1098.6" r="24.0" fill="url(#gG)"/>
<circle cx="1203.8" cy="1064.7" r="16.0" fill="url(#gG)"/>
<circle cx="1171.9" cy="1066.7" r="20.0" fill="url(#gG)"/>
<circle cx="1227.8" cy="1092.0" r="28.0" fill="url(#gG)"/>
<path d="M1155.2,1126.6 C1150.9,1138.9 1146.5,1143.0 1146.5,1147.8 A8.7,8.7 0 0 0 1155.2,1156.5 Z" fill="#8fcde8"/><path d="M1155.2,1126.6 C1159.5,1138.9 1163.9,1143.0 1163.9,1147.8 A8.7,8.7 0 0 1 1155.2,1156.5 Z" fill="#7bb5dc"/>
<path d="M1203.8,1145.2 C1199.3,1157.4 1194.8,1161.2 1194.8,1166.2 A9.0,9.0 0 0 0 1203.8,1175.2 Z" fill="#8fcde8"/><path d="M1203.8,1145.2 C1208.3,1157.4 1212.8,1161.2 1212.8,1166.2 A9.0,9.0 0 0 1 1203.8,1175.2 Z" fill="#7bb5dc"/>
<path d="M1235.8,1123.2 C1230.5,1139.0 1225.1,1144.6 1225.1,1150.5 A10.7,10.7 0 0 0 1235.8,1161.2 Z" fill="#8fcde8"/><path d="M1235.8,1123.2 C1241.1,1139.0 1246.5,1144.6 1246.5,1150.5 A10.7,10.7 0 0 1 1235.8,1161.2 Z" fill="#7bb5dc"/>
<circle cx="524.6" cy="1515.9" r="23.3" fill="url(#gL)"/>
<circle cx="563.2" cy="1522.6" r="23.3" fill="url(#gL)"/>
<circle cx="575.9" cy="1492.0" r="15.3" fill="url(#gL)"/>
<circle cx="543.9" cy="1494.0" r="19.3" fill="url(#gL)"/>
<circle cx="599.8" cy="1517.9" r="27.3" fill="url(#gL)"/>
<path d="M523.3,1551.9 C516.3,1570.4 509.3,1576.1 509.3,1583.8 A14.0,14.0 0 0 0 523.3,1597.8 Z" fill="#8fcbe0"/><path d="M523.3,1551.9 C530.3,1570.4 537.3,1576.1 537.3,1583.8 A14.0,14.0 0 0 1 523.3,1597.8 Z" fill="#74b3cf"/>
<path d="M576.5,1530.6 C572.1,1541.7 567.8,1545.0 567.8,1549.8 A8.7,8.7 0 0 0 576.5,1558.5 Z" fill="#8fcbe0"/><path d="M576.5,1530.6 C580.9,1541.7 585.2,1545.0 585.2,1549.8 A8.7,8.7 0 0 1 576.5,1558.5 Z" fill="#74b3cf"/>
<path d="M609.1,1574.5 C603.8,1590.0 598.4,1595.4 598.4,1601.3 A10.7,10.7 0 0 0 609.1,1612.0 Z" fill="#8fcbe0"/><path d="M609.1,1574.5 C614.5,1590.0 619.8,1595.4 619.8,1601.3 A10.7,10.7 0 0 1 609.1,1612.0 Z" fill="#74b3cf"/>
<circle cx="837.4" cy="1515.9" r="23.3" fill="url(#gL)"/>
<circle cx="876.0" cy="1522.6" r="23.3" fill="url(#gL)"/>
<circle cx="888.7" cy="1492.0" r="15.3" fill="url(#gL)"/>
<circle cx="856.7" cy="1494.0" r="19.3" fill="url(#gL)"/>
<circle cx="912.6" cy="1517.9" r="27.3" fill="url(#gL)"/>
<path d="M836.1,1551.9 C829.1,1570.4 822.1,1576.1 822.1,1583.8 A14.0,14.0 0 0 0 836.1,1597.8 Z" fill="#8fcbe0"/><path d="M836.1,1551.9 C843.1,1570.4 850.1,1576.1 850.1,1583.8 A14.0,14.0 0 0 1 836.1,1597.8 Z" fill="#74b3cf"/>
<path d="M889.3,1530.6 C884.9,1541.7 880.6,1545.0 880.6,1549.8 A8.7,8.7 0 0 0 889.3,1558.5 Z" fill="#8fcbe0"/><path d="M889.3,1530.6 C893.6,1541.7 898.0,1545.0 898.0,1549.8 A8.7,8.7 0 0 1 889.3,1558.5 Z" fill="#74b3cf"/>
<path d="M921.9,1574.5 C916.6,1590.0 911.2,1595.4 911.2,1601.3 A10.7,10.7 0 0 0 921.9,1612.0 Z" fill="#8fcbe0"/><path d="M921.9,1574.5 C927.3,1590.0 932.6,1595.4 932.6,1601.3 A10.7,10.7 0 0 1 921.9,1612.0 Z" fill="#74b3cf"/>
<circle cx="1154.6" cy="1521.6" r="24.6" fill="url(#gG)"/>
<circle cx="1192.5" cy="1530.2" r="24.0" fill="url(#gG)"/>
<circle cx="1203.8" cy="1496.3" r="16.0" fill="url(#gG)"/>
<circle cx="1171.9" cy="1498.3" r="20.0" fill="url(#gG)"/>
<circle cx="1227.8" cy="1523.6" r="28.0" fill="url(#gG)"/>
<path d="M1155.2,1558.2 C1150.9,1570.5 1146.5,1574.6 1146.5,1579.4 A8.7,8.7 0 0 0 1155.2,1588.1 Z" fill="#8fcde8"/><path d="M1155.2,1558.2 C1159.5,1570.5 1163.9,1574.6 1163.9,1579.4 A8.7,8.7 0 0 1 1155.2,1588.1 Z" fill="#7bb5dc"/>
<path d="M1203.8,1576.8 C1199.3,1589.0 1194.8,1592.8 1194.8,1597.8 A9.0,9.0 0 0 0 1203.8,1606.8 Z" fill="#8fcde8"/><path d="M1203.8,1576.8 C1208.3,1589.0 1212.8,1592.8 1212.8,1597.8 A9.0,9.0 0 0 1 1203.8,1606.8 Z" fill="#7bb5dc"/>
<path d="M1235.8,1554.8 C1230.5,1570.6 1225.1,1576.2 1225.1,1582.1 A10.7,10.7 0 0 0 1235.8,1592.8 Z" fill="#8fcde8"/><path d="M1235.8,1554.8 C1241.1,1570.6 1246.5,1576.2 1246.5,1582.1 A10.7,10.7 0 0 1 1235.8,1592.8 Z" fill="#7bb5dc"/>
<rect x="254.4" y="269.2" width="67.2" height="187.8" fill="#6e6e6e"/>
<text class="serif" font-size="58.4" font-weight="700" fill="#fff" text-anchor="middle" transform="translate(288.1,330.1) scale(0.83,1)"><tspan x="0" y="0">北</tspan><tspan x="-0.3" y="64.1">部</tspan></text>
<polygon points="82.2,457.8 202.8,423.0 321.0,456.6 202.6,492.0" fill="#6cc4db" stroke="#6cc4db" stroke-width="0.5" stroke-linejoin="round" />
<polygon points="82.2,457.8 202.6,492.0 202.6,542.9 82.2,505.5" fill="#5ab8d0" stroke="#5ab8d0" stroke-width="0.5" stroke-linejoin="round" />
<polygon points="202.6,492.0 321.0,456.6 321.0,504.4 202.6,542.9" fill="#42a8c3" stroke="#42a8c3" stroke-width="0.5" stroke-linejoin="round" />
<polygon points="176.8,433.7 204.5,448.4 202.5,489.0 160.0,473.9" fill="#fcd55e" stroke="#fcd55e" stroke-width="0.5" stroke-linejoin="round" />
<polygon points="204.5,448.4 231.0,433.7 248.0,471.5 202.5,489.0" fill="#f6c94e" stroke="#f6c94e" stroke-width="0.5" stroke-linejoin="round" />
<polygon points="176.8,433.7 204.5,448.4 231.0,433.7 204.5,420.0" fill="#d2a83b" stroke="#d2a83b" stroke-width="0.5" stroke-linejoin="round" />
<polygon points="175.1,410.3 204.5,424.9 204.5,436.9 178.7,424.5" fill="#fcd55e" stroke="#fcd55e" stroke-width="0.5" stroke-linejoin="round" />
<polygon points="233.9,410.3 204.5,424.9 204.5,436.9 230.3,424.5" fill="#f6c94e" stroke="#f6c94e" stroke-width="0.5" stroke-linejoin="round" />
<polygon points="176.6,411.1 204.5,424.9 232.4,411.1 204.5,397.7" fill="#d2a83b" stroke="#d2a83b" stroke-width="0.5" stroke-linejoin="round" />
<polygon points="175.1,392.4 204.5,407.0 204.5,419.0 178.7,406.6" fill="#fcd55e" stroke="#fcd55e" stroke-width="0.5" stroke-linejoin="round" />
<polygon points="233.9,392.4 204.5,407.0 204.5,419.0 230.3,406.6" fill="#f6c94e" stroke="#f6c94e" stroke-width="0.5" stroke-linejoin="round" />
<polygon points="176.6,393.2 204.5,407.0 232.4,393.2 204.5,379.8" fill="#d2a83b" stroke="#d2a83b" stroke-width="0.5" stroke-linejoin="round" />
<polygon points="175.1,374.5 204.5,389.1 204.5,401.1 178.7,388.7" fill="#fcd55e" stroke="#fcd55e" stroke-width="0.5" stroke-linejoin="round" />
<polygon points="233.9,374.5 204.5,389.1 204.5,401.1 230.3,388.7" fill="#f6c94e" stroke="#f6c94e" stroke-width="0.5" stroke-linejoin="round" />
<polygon points="176.6,375.3 204.5,389.1 232.4,375.3 204.5,361.9" fill="#d2a83b" stroke="#d2a83b" stroke-width="0.5" stroke-linejoin="round" />
<polygon points="175.1,356.6 204.5,371.2 204.5,383.2 178.7,370.8" fill="#fcd55e" stroke="#fcd55e" stroke-width="0.5" stroke-linejoin="round" />
<polygon points="233.9,356.6 204.5,371.2 204.5,383.2 230.3,370.8" fill="#f6c94e" stroke="#f6c94e" stroke-width="0.5" stroke-linejoin="round" />
<polygon points="176.6,357.4 204.5,371.2 232.4,357.4 204.5,344.0" fill="#d2a83b" stroke="#d2a83b" stroke-width="0.5" stroke-linejoin="round" />
<polygon points="175.1,338.7 204.5,353.3 204.5,365.3 178.7,352.9" fill="#fcd55e" stroke="#fcd55e" stroke-width="0.5" stroke-linejoin="round" />
<polygon points="233.9,338.7 204.5,353.3 204.5,365.3 230.3,352.9" fill="#f6c94e" stroke="#f6c94e" stroke-width="0.5" stroke-linejoin="round" />
<polygon points="176.6,339.5 204.5,353.3 232.4,339.5 204.5,326.1" fill="#d2a83b" stroke="#d2a83b" stroke-width="0.5" stroke-linejoin="round" />
<polygon points="175.1,320.8 204.5,335.4 204.5,347.4 178.7,335.0" fill="#fcd55e" stroke="#fcd55e" stroke-width="0.5" stroke-linejoin="round" />
<polygon points="233.9,320.8 204.5,335.4 204.5,347.4 230.3,335.0" fill="#f6c94e" stroke="#f6c94e" stroke-width="0.5" stroke-linejoin="round" />
<polygon points="176.6,321.6 204.5,335.4 232.4,321.6 204.5,308.2" fill="#d2a83b" stroke="#d2a83b" stroke-width="0.5" stroke-linejoin="round" />
<polygon points="186.8,316.8 204.5,325.2 204.5,331.8 188.6,323.6" fill="#fcd55e" stroke="#fcd55e" stroke-width="0.5" stroke-linejoin="round" />
<polygon points="222.2,316.8 204.5,325.2 204.5,331.8 220.4,323.6" fill="#f6c94e" stroke="#f6c94e" stroke-width="0.5" stroke-linejoin="round" />
<polygon points="187.8,317.2 204.5,325.2 221.2,317.2 204.5,309.0" fill="#d2a83b" stroke="#d2a83b" stroke-width="0.5" stroke-linejoin="round" />
<polygon points="189.9,295.2 204.5,302.6 204.5,320.0 189.9,313.8" fill="#fcd55e" stroke="#fcd55e" stroke-width="0.5" stroke-linejoin="round" />
<polygon points="217.0,295.2 204.5,302.6 204.5,320.0 217.0,313.8" fill="#f6c94e" stroke="#f6c94e" stroke-width="0.5" stroke-linejoin="round" />
<polygon points="190.8,295.5 204.5,302.6 216.2,295.5 204.5,288.5" fill="#d2a83b" stroke="#d2a83b" stroke-width="0.5" stroke-linejoin="round" />
<polygon points="198.4,286.6 204.5,289.4 204.5,297.6 198.4,294.8" fill="#fcd55e" stroke="#fcd55e" stroke-width="0.5" stroke-linejoin="round" />
<polygon points="210.2,286.6 204.5,289.4 204.5,297.6 210.2,294.8" fill="#f6c94e" stroke="#f6c94e" stroke-width="0.5" stroke-linejoin="round" />
<polygon points="198.9,286.6 204.5,289.2 209.7,286.6 204.5,283.6" fill="#e3b53e" stroke="#e3b53e" stroke-width="0.5" stroke-linejoin="round" />
<rect x="203.8" y="272" width="1.3" height="12.5" fill="#f3cf5e"/>
<rect x="254.4" y="1114.0" width="67.2" height="189.2" fill="#6e6e6e"/>
<text class="serif" font-size="58.4" font-weight="700" fill="#fff" text-anchor="middle" transform="translate(288.1,1172.2) scale(0.83,1)"><tspan x="0" y="0">南</tspan><tspan x="-0.3" y="63.0">部</tspan></text>
<polygon points="82.2,1304.0 202.8,1268.4 321.0,1302.8 202.6,1339.0" fill="#6cc4db" stroke="#6cc4db" stroke-width="0.5" stroke-linejoin="round" />
<polygon points="82.2,1304.0 202.6,1339.0 202.6,1388.7 82.2,1351.7" fill="#5ab8d0" stroke="#5ab8d0" stroke-width="0.5" stroke-linejoin="round" />
<polygon points="202.6,1339.0 321.0,1302.8 321.0,1350.6 202.6,1388.7" fill="#42a8c3" stroke="#42a8c3" stroke-width="0.5" stroke-linejoin="round" />
<polygon points="142.0,1196.9 163.1,1206.6 163.1,1144.4 193.9,1158.9 193.9,1221.2 219.4,1228.6 219.4,1325.2 192.0,1317.2 192.0,1244.5 170.0,1243.5 170.0,1308.8 142.0,1300.4" fill="#fcd55e" stroke="#fcd55e" stroke-width="0.5" stroke-linejoin="round" />
<polygon points="170.0,1243.5 192.0,1244.5 192.0,1301.7 170.0,1308.8" fill="#c9a43b" stroke="#c9a43b" stroke-width="0.5" stroke-linejoin="round" />
<polygon points="193.9,1158.9 220.0,1147.5 220.0,1219.3 193.9,1221.2" fill="#f8cd52" stroke="#f8cd52" stroke-width="0.5" stroke-linejoin="round" />
<polygon points="193.9,1219.3 220.0,1211.9 220.0,1228.6 193.9,1221.2" fill="#f8cd52" stroke="#f8cd52" stroke-width="0.5" stroke-linejoin="round" />
<polygon points="219.4,1228.6 243.6,1216.5 243.6,1317.2 219.4,1325.2" fill="#f5c548" stroke="#f5c548" stroke-width="0.5" stroke-linejoin="round" />
<polygon points="163.7,1144.9 189.2,1137.3 219.6,1148.1 193.9,1158.9" fill="#c9a43b" stroke="#c9a43b" stroke-width="0.5" stroke-linejoin="round" />
<polygon points="143.5,1196.6 163.1,1191.0 163.1,1206.6" fill="#c9a43b" stroke="#c9a43b" stroke-width="0.5" stroke-linejoin="round" />
<polygon points="199.8,1219.3 222.2,1211.9 243.6,1216.5 219.4,1228.6" fill="#c9a43b" stroke="#c9a43b" stroke-width="0.5" stroke-linejoin="round" />
<polygon points="193.9,1129.8 178.6,1146.6 193.9,1155.2" fill="#f8d25c" stroke="#f8d25c" stroke-width="0.5" stroke-linejoin="round" />
<polygon points="193.9,1129.8 215.5,1151.5 193.9,1155.2" fill="#efc048" stroke="#efc048" stroke-width="0.5" stroke-linejoin="round" />
<polygon points="161.8,1144.4 163.1,1140.3 164.4,1144.4" fill="#f6cd55" stroke="#f6cd55" stroke-width="0.5" stroke-linejoin="round" />
<polygon points="218.7,1147.5 220.0,1143.4 221.3,1147.5" fill="#f6cd55" stroke="#f6cd55" stroke-width="0.5" stroke-linejoin="round" />
<polygon points="142.6,1196.9 143.9,1192.8 145.2,1196.9" fill="#f6cd55" stroke="#f6cd55" stroke-width="0.5" stroke-linejoin="round" />
<polygon points="241.4,1216.5 242.7,1212.4 244.0,1216.5" fill="#f6cd55" stroke="#f6cd55" stroke-width="0.5" stroke-linejoin="round" />
<polygon points="218.1,1228.6 219.4,1224.5 220.7,1228.6" fill="#f6cd55" stroke="#f6cd55" stroke-width="0.5" stroke-linejoin="round" />
<rect x="193.1" y="1117.7" width="1.6" height="13.0" fill="#f3cf5e"/>
<rect x="254.4" y="691.2" width="67.2" height="192.0" fill="#6e6e6e"/>
<text class="serif" font-size="58.4" font-weight="700" fill="#fff" text-anchor="middle" transform="translate(288.1,749.6) scale(0.83,1)"><tspan x="0" y="0">中</tspan><tspan x="-0.3" y="62.6">部</tspan></text>
<polygon points="82.2,884.0 202.8,847.4 321.0,882.8 202.6,920.0" fill="#6cc4db" stroke="#6cc4db" stroke-width="0.5" stroke-linejoin="round" />
<polygon points="82.2,884.0 202.6,920.0 202.6,970.3 82.2,931.7" fill="#5ab8d0" stroke="#5ab8d0" stroke-width="0.5" stroke-linejoin="round" />
<polygon points="202.6,920.0 321.0,882.8 321.0,930.6 202.6,970.3" fill="#42a8c3" stroke="#42a8c3" stroke-width="0.5" stroke-linejoin="round" />
<path d="M 88.4,882.8 L 90.5,861.5 L 101.0,858.7 L 101.0,848.9 L 106.6,846.1 L 121.9,835.0 L 133.1,830.1 L 152.7,821.0 L 169.5,814.0 L 177.9,817.9 L 183.5,823.1 L 190.5,822.4 L 205.1,816.5 L 219.8,822.4 L 224.0,816.8 L 233.8,812.6 L 240.8,814.0 L 254.8,821.0 L 264.6,826.6 L 268.8,840.5 L 273.7,844.7 L 278.5,884.6 L 207.9,909.8 L 172.3,901.0 L 135.9,892.6 Z" fill="#d9ad42"/>
<path d="M 190.5,822.4 L 205.1,816.5 L 219.8,822.4 L 205.8,829.6 Z" fill="#d1a53a"/>
<path d="M 152.7,821.0 L 169.5,814.0 L 177.9,817.9 L 183.5,823.1 C 180.7,828.0 182.8,830.1 182.8,830.1 L 205.8,829.6 L 190.5,822.4 L 184.2,823.5 C 177.9,816.8 176.5,821.0 172.3,817.5 C 169.5,815.4 163.9,818.2 152.7,821.0 Z" fill="#f7d467"/>
<path d="M 219.8,822.4 L 224.0,816.8 L 233.8,812.6 L 240.8,814.0 C 236.6,815.4 235.2,816.8 232.4,818.2 C 226.8,821.0 231.0,825.2 228.2,828.0 L 206.5,829.6 Z" fill="#f7d467"/>
<path d="M 174.0,899.6 L 173.7,878.3 C 169.5,867.1 167.4,846.1 175.1,836.6 C 180.7,831.0 198.8,830.1 206.3,830.1 L 207.0,909.3 Z" fill="#f9d056" stroke="#fdf0c0" stroke-width="1.5" stroke-linejoin="round"/>
<path d="M 208.4,830.1 C 219.8,829.8 232.4,832.2 235.2,840.5 C 238.0,855.9 236.6,883.9 237.3,899.6 L 208.4,909.5 Z" fill="#f5c84e" stroke="#fdf0c0" stroke-width="1.5" stroke-linejoin="round"/>
<path d="M 135.9,892.3 C 137.6,882.5 130.1,872.7 130.9,860.1 C 131.7,848.9 140.1,844.5 147.4,844.7 C 153.0,845.6 151.6,858.7 149.9,869.9 C 148.5,881.1 147.4,889.5 146.0,894.8 Z" fill="#f9d056" stroke="#fdf0c0" stroke-width="1.5" stroke-linejoin="round"/>
<path d="M 102.7,881.8 C 99.3,869.9 102.4,855.9 106.8,847.5 L 118.0,840.5 C 115.0,847.5 121.9,853.1 121.9,861.5 C 121.9,872.7 117.5,881.1 118.0,887.0 Z" fill="#f9d056" stroke="#fdf0c0" stroke-width="1.5" stroke-linejoin="round"/>
<path d="M 132.6,831.9 C 135.9,836.6 145.7,835.2 150.2,828.0 L 153.0,822.1 L 133.1,829.9 Z" fill="#f9d056" stroke="#fdf0c0" stroke-width="1.5" stroke-linejoin="round"/>
<path d="M 249.2,841.9 C 252.0,835.0 254.8,828.0 257.3,824.9 C 259.3,836.4 254.8,841.9 260.4,853.1 C 263.4,865.7 260.4,878.3 262.0,890.9 L 256.5,893.0 C 256.2,878.3 250.6,869.9 249.2,858.7 Z" fill="#f5c84e" stroke="#fdf0c0" stroke-width="1.5" stroke-linejoin="round"/>
<path d="M 267.4,847.5 C 271.3,844.7 273.0,846.1 274.4,855.9 L 277.8,883.6 L 274.6,885.0 C 273.0,875.5 266.0,869.9 267.4,847.5 Z" fill="#f5c84e" stroke="#fdf0c0" stroke-width="1.5" stroke-linejoin="round"/>
<path d="M 101.0,848.9 L 106.6,846.8 C 105.2,850.3 105.9,853.1 103.1,852.0 Z" fill="#f7d467"/>
<rect x="254.4" y="1537.2" width="67.2" height="192.6" fill="#6e6e6e"/>
<text class="serif" font-size="58.4" font-weight="700" fill="#fff" text-anchor="middle" transform="translate(288.1,1595.1) scale(0.83,1)"><tspan x="0" y="0">東</tspan><tspan x="-0.3" y="62.6">部</tspan></text>
<polygon points="82.2,1730.6 202.8,1694.7 321.0,1729.4 202.6,1765.9" fill="#6cc4db" stroke="#6cc4db" stroke-width="0.5" stroke-linejoin="round" />
<polygon points="82.2,1730.6 202.6,1765.9 202.6,1816.0 82.2,1778.3" fill="#5ab8d0" stroke="#5ab8d0" stroke-width="0.5" stroke-linejoin="round" />
<polygon points="202.6,1765.9 321.0,1729.4 321.0,1777.2 202.6,1816.0" fill="#42a8c3" stroke="#42a8c3" stroke-width="0.5" stroke-linejoin="round" />
<path d="M 297.0,1704.9 C 299.6,1691.4 303.5,1684.5 306.0,1686.9 C 308.7,1691.7 309.4,1701.8 309.1,1709.4" fill="none" stroke="#e4b440" stroke-width="5.5" stroke-linecap="butt"/>
<path d="M 297.6,1703.9 C 300.1,1691.1 303.9,1684.8 306.0,1687.2" fill="none" stroke="#f9cf55" stroke-width="2.6" stroke-linecap="butt"/>
<path d="M 303.0,1708.2 L 310.1,1708.2 L 310.1,1728.4 L 303.9,1730.2 Z" fill="#c1962f"/>
<path d="M 273.6,1700.7 C 277.0,1684.8 281.7,1677.5 285.2,1680.3 C 290.4,1684.5 293.8,1698.3 293.5,1709.4" fill="none" stroke="#e4b440" stroke-width="7.3" stroke-linecap="butt"/>
<path d="M 274.5,1700.1 C 277.6,1685.2 282.1,1678.9 284.8,1681.0" fill="none" stroke="#f9cf55" stroke-width="3.5" stroke-linecap="butt"/>
<path d="M 285.7,1708.2 L 295.6,1708.2 L 294.5,1733.6 L 286.9,1733.6 Z" fill="#c1962f"/>
<path d="M 230.3,1700.1 C 236.4,1675.5 244.2,1666.8 252.3,1668.0 C 262.7,1670.6 267.9,1688.3 268.6,1705.6" fill="none" stroke="#e4b440" stroke-width="10.4" stroke-linecap="butt"/>
<path d="M 231.5,1698.0 C 237.8,1676.2 245.0,1668.5 251.9,1669.2 C 259.2,1670.6 264.4,1683.1 266.1,1694.9" fill="none" stroke="#f9cf55" stroke-width="5.5" stroke-linecap="butt"/>
<path d="M 259.7,1704.7 L 271.3,1704.7 L 270.3,1735.4 L 261.6,1737.1 Z" fill="#c1962f"/>
<path d="M 262.3,1736.7 L 266.7,1732.4 L 272.7,1735.9 L 271.9,1738.5 L 264.1,1739.3 Z" fill="#f9cf55"/>
<path d="M 143.8,1669.6 C 155.9,1651.9 186.2,1646.0 203.5,1661.6 C 217.3,1674.4 224.3,1688.3 226.8,1703.5" fill="none" stroke="#e4b440" stroke-width="13.5" stroke-linecap="butt"/>
<path d="M 143.2,1666.5 C 156.4,1648.5 187.0,1642.9 204.9,1658.9 C 215.9,1669.2 222.2,1680.0 225.6,1692.1" fill="none" stroke="#f9cf55" stroke-width="7.6" stroke-linecap="butt"/>
<path d="M 221.3,1702.1 L 231.5,1702.1 L 229.4,1719.8 L 223.6,1719.8 Z" fill="#c1962f"/>
<path d="M 212.1,1739.3 L 217.3,1726.4 L 224.3,1719.4 L 231.2,1719.4 L 240.2,1728.4 L 248.8,1737.1 L 246.8,1742.3 L 229.4,1744.0 L 215.3,1743.0 Z" fill="#f3c54d"/>
<path d="M 217.3,1726.4 L 224.3,1719.4 L 227.7,1721.2 L 226.0,1731.6 L 219.1,1736.7 L 213.9,1738.5 Z" fill="#f9d768"/>
<path d="M 98.8,1614.7 C 116.9,1626.0 134.2,1647.6 142.0,1664.4 L 151.6,1667.9 C 146.4,1676.2 141.2,1684.8 138.6,1694.3 L 115.2,1693.5 C 111.7,1676.2 104.8,1657.1 91.0,1643.3 L 98.8,1631.2 Z" fill="#f9cf55"/>
<path d="M 91.0,1643.3 C 104.8,1657.1 111.7,1676.2 115.2,1693.5 L 123.9,1693.8 C 121.3,1676.2 113.5,1655.4 98.8,1637.2 Z" fill="#c1962f"/>
<path d="M 98.8,1637.2 C 113.5,1655.4 121.3,1676.2 123.9,1693.8 L 129.9,1694.2 C 127.3,1674.4 116.9,1651.9 100.5,1631.2 L 98.8,1631.2 Z" fill="#e4b440"/>
<path d="M 74.5,1608.7 L 77.5,1608.7 L 78.5,1624.2 L 94.4,1626.0 L 95.8,1613.8 L 98.8,1614.7 L 98.8,1631.2 L 91.0,1643.3 L 73.7,1645.9 Z" fill="#c79a33"/>
<path d="M 78.5,1624.2 L 94.4,1626.0 L 91.0,1641.5 L 75.7,1643.6 Z" fill="#b98e2c"/>
<path d="M 115.2,1691.7 L 139.1,1692.8 L 138.4,1695.6 L 115.5,1694.9 Z" fill="#f3c64e"/>
<path d="M 116.1,1694.9 L 137.7,1695.6 L 136.0,1711.1 L 122.1,1714.6 Z" fill="#b88d2c"/>
<path d="M 96.2,1725.0 L 108.3,1716.0 L 122.1,1714.2 L 134.2,1711.6 L 141.2,1719.4 L 155.0,1724.6 L 163.7,1728.1 L 166.3,1736.7 L 161.9,1743.7 L 146.4,1738.8 L 130.8,1733.6 L 113.5,1730.2 L 99.6,1727.7 Z" fill="#f3c54d"/>
<path d="M 129.0,1716.0 L 134.2,1711.6 L 141.2,1719.4 L 146.4,1724.6 L 141.2,1728.1 L 134.2,1721.2 Z" fill="#f9d768"/>
</svg></body></html>
